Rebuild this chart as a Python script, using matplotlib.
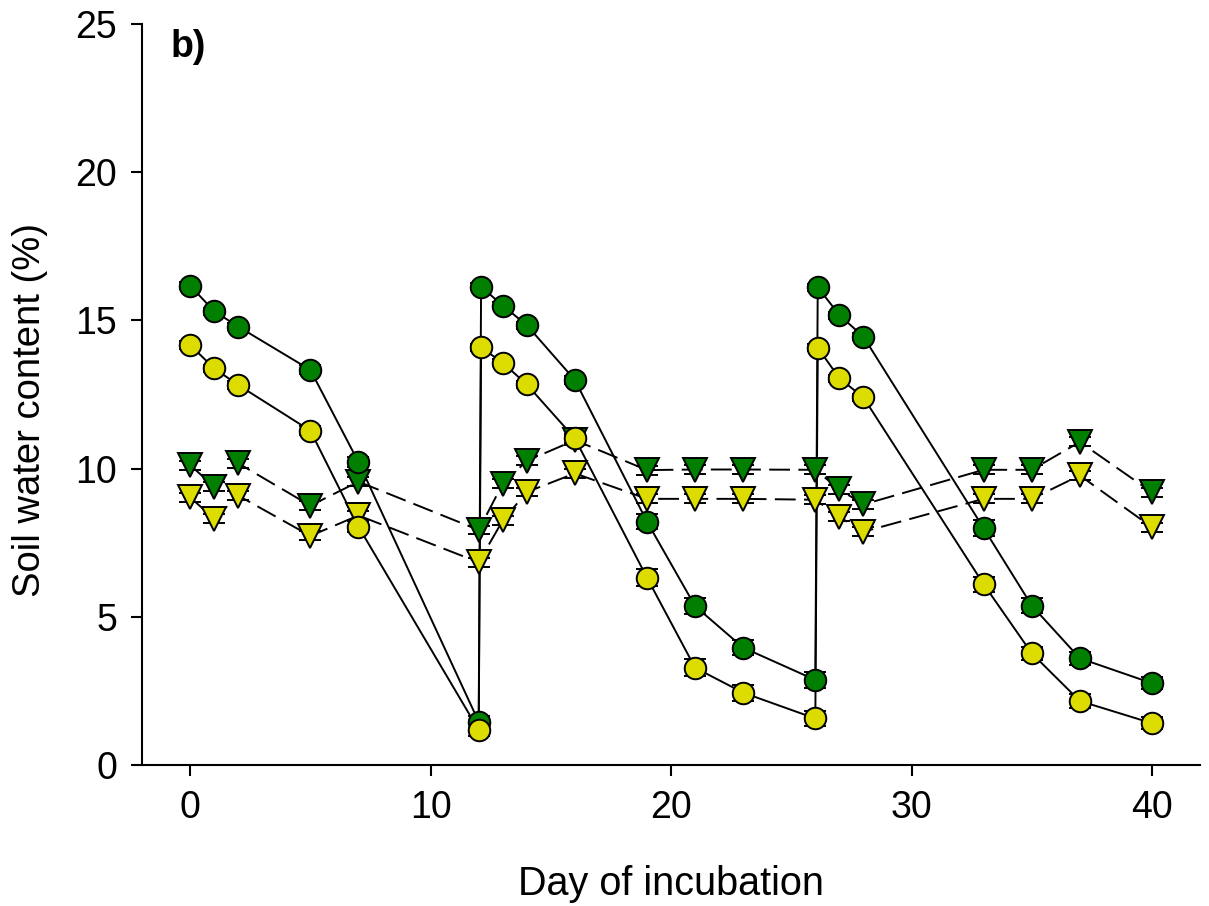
import matplotlib
matplotlib.use("Agg")
import matplotlib.pyplot as plt

plt.rcParams['font.family'] = ['Liberation Sans', 'DejaVu Sans']
plt.rcParams['lines.scale_dashes'] = False

# Sampling days (rewetting on days 12 and 26 gives two readings on that day)
days_circle = [0, 1, 2, 5, 7, 12, 12.1, 13, 14, 16, 19, 21, 23, 26, 26.1, 27, 28, 33, 35, 37, 40]
days_tri = [0, 1, 2, 5, 7, 12, 13, 14, 16, 19, 21, 23, 26, 27, 28, 33, 35, 37, 40]

# Drying/rewetting treatment
green_circle = [16.17, 15.31, 14.79, 13.33, 10.22, 1.46, 16.14, 15.50, 14.84, 12.99, 8.21,
                5.36, 3.96, 2.87, 16.12, 15.18, 14.45, 7.99, 5.38, 3.60, 2.76]
yellow_circle = [14.17, 13.38, 12.82, 11.28, 8.04, 1.18, 14.09, 13.57, 12.84, 11.02, 6.32,
                 3.28, 2.44, 1.57, 14.08, 13.05, 12.40, 6.10, 3.77, 2.16, 1.41]
green_circle_se = [0.12, 0.12, 0.12, 0.15, 0.18, 0.2, 0.12, 0.12, 0.12, 0.15, 0.25,
                   0.28, 0.25, 0.28, 0.12, 0.12, 0.12, 0.28, 0.25, 0.22, 0.2]
yellow_circle_se = [0.12, 0.12, 0.12, 0.15, 0.18, 0.2, 0.12, 0.12, 0.12, 0.15, 0.29,
                    0.29, 0.27, 0.25, 0.12, 0.12, 0.12, 0.25, 0.22, 0.22, 0.2]

# Constant moisture control
green_tri = [10.12, 9.39, 10.18, 8.75, 9.56, 7.93, 9.49, 10.26, 10.96, 9.95, 9.97,
             9.97, 9.96, 9.30, 8.79, 9.96, 9.96, 10.90, 9.20]
yellow_tri = [9.03, 8.31, 9.09, 7.73, 8.42, 6.84, 8.25, 9.21, 9.84, 8.98, 8.98,
              8.98, 8.95, 8.37, 7.87, 8.98, 8.98, 9.77, 8.02]
tri_se = [0.15] * len(days_tri)

GREEN = '#007f00'
YELLOW = '#dcdc00'

fig = plt.figure(figsize=(12.09, 9.06), dpi=100)
ax = fig.add_axes([0.1175, 0.1556, 0.8751, 0.8179])

lw = 1.4
ms_c = 15.5
ms_t = 17

def series(x, y, se, color, marker, ms, ls):
    if ls == 'dashed':
        ax.plot(x, y, color='black', lw=lw, dashes=(15, 6), zorder=2)
    else:
        ax.plot(x, y, color='black', lw=lw, zorder=2)
    ax.errorbar(x, y, yerr=se, fmt='none', ecolor='black', elinewidth=lw,
                capsize=8, capthick=lw, zorder=2.5)
    ax.plot(x, y, ls='none', marker=marker, ms=ms, mfc=color, mec='black',
            mew=1.4, zorder=3)

series(days_tri, green_tri, tri_se, GREEN, 'v', ms_t, 'dashed')
series(days_tri, yellow_tri, tri_se, YELLOW, 'v', ms_t, 'dashed')
series(days_circle, green_circle, green_circle_se, GREEN, 'o', ms_c, 'solid')
series(days_circle, yellow_circle, yellow_circle_se, YELLOW, 'o', ms_c, 'solid')

ax.set_xlim(-2, 42)
ax.set_ylim(0, 25)
ax.set_xticks([0, 10, 20, 30, 40])
ax.set_yticks([0, 5, 10, 15, 20, 25])
for s in ['top', 'right']:
    ax.spines[s].set_visible(False)
for s in ['left', 'bottom']:
    ax.spines[s].set_linewidth(1.5)
ax.tick_params(direction='out', length=8, width=1.5, labelsize=27, pad=10)

ax.set_xlabel('Day of incubation', fontsize=28.5, labelpad=28)
ax.set_ylabel('Soil water content (%)', fontsize=27.5, labelpad=20)
ax.yaxis.label.set_y(0.479)

ax.text(0.027, 0.993, 'b)', transform=ax.transAxes, fontsize=27,
        fontweight='bold', va='top', ha='left')

fig.savefig('out.png', dpi=100)
